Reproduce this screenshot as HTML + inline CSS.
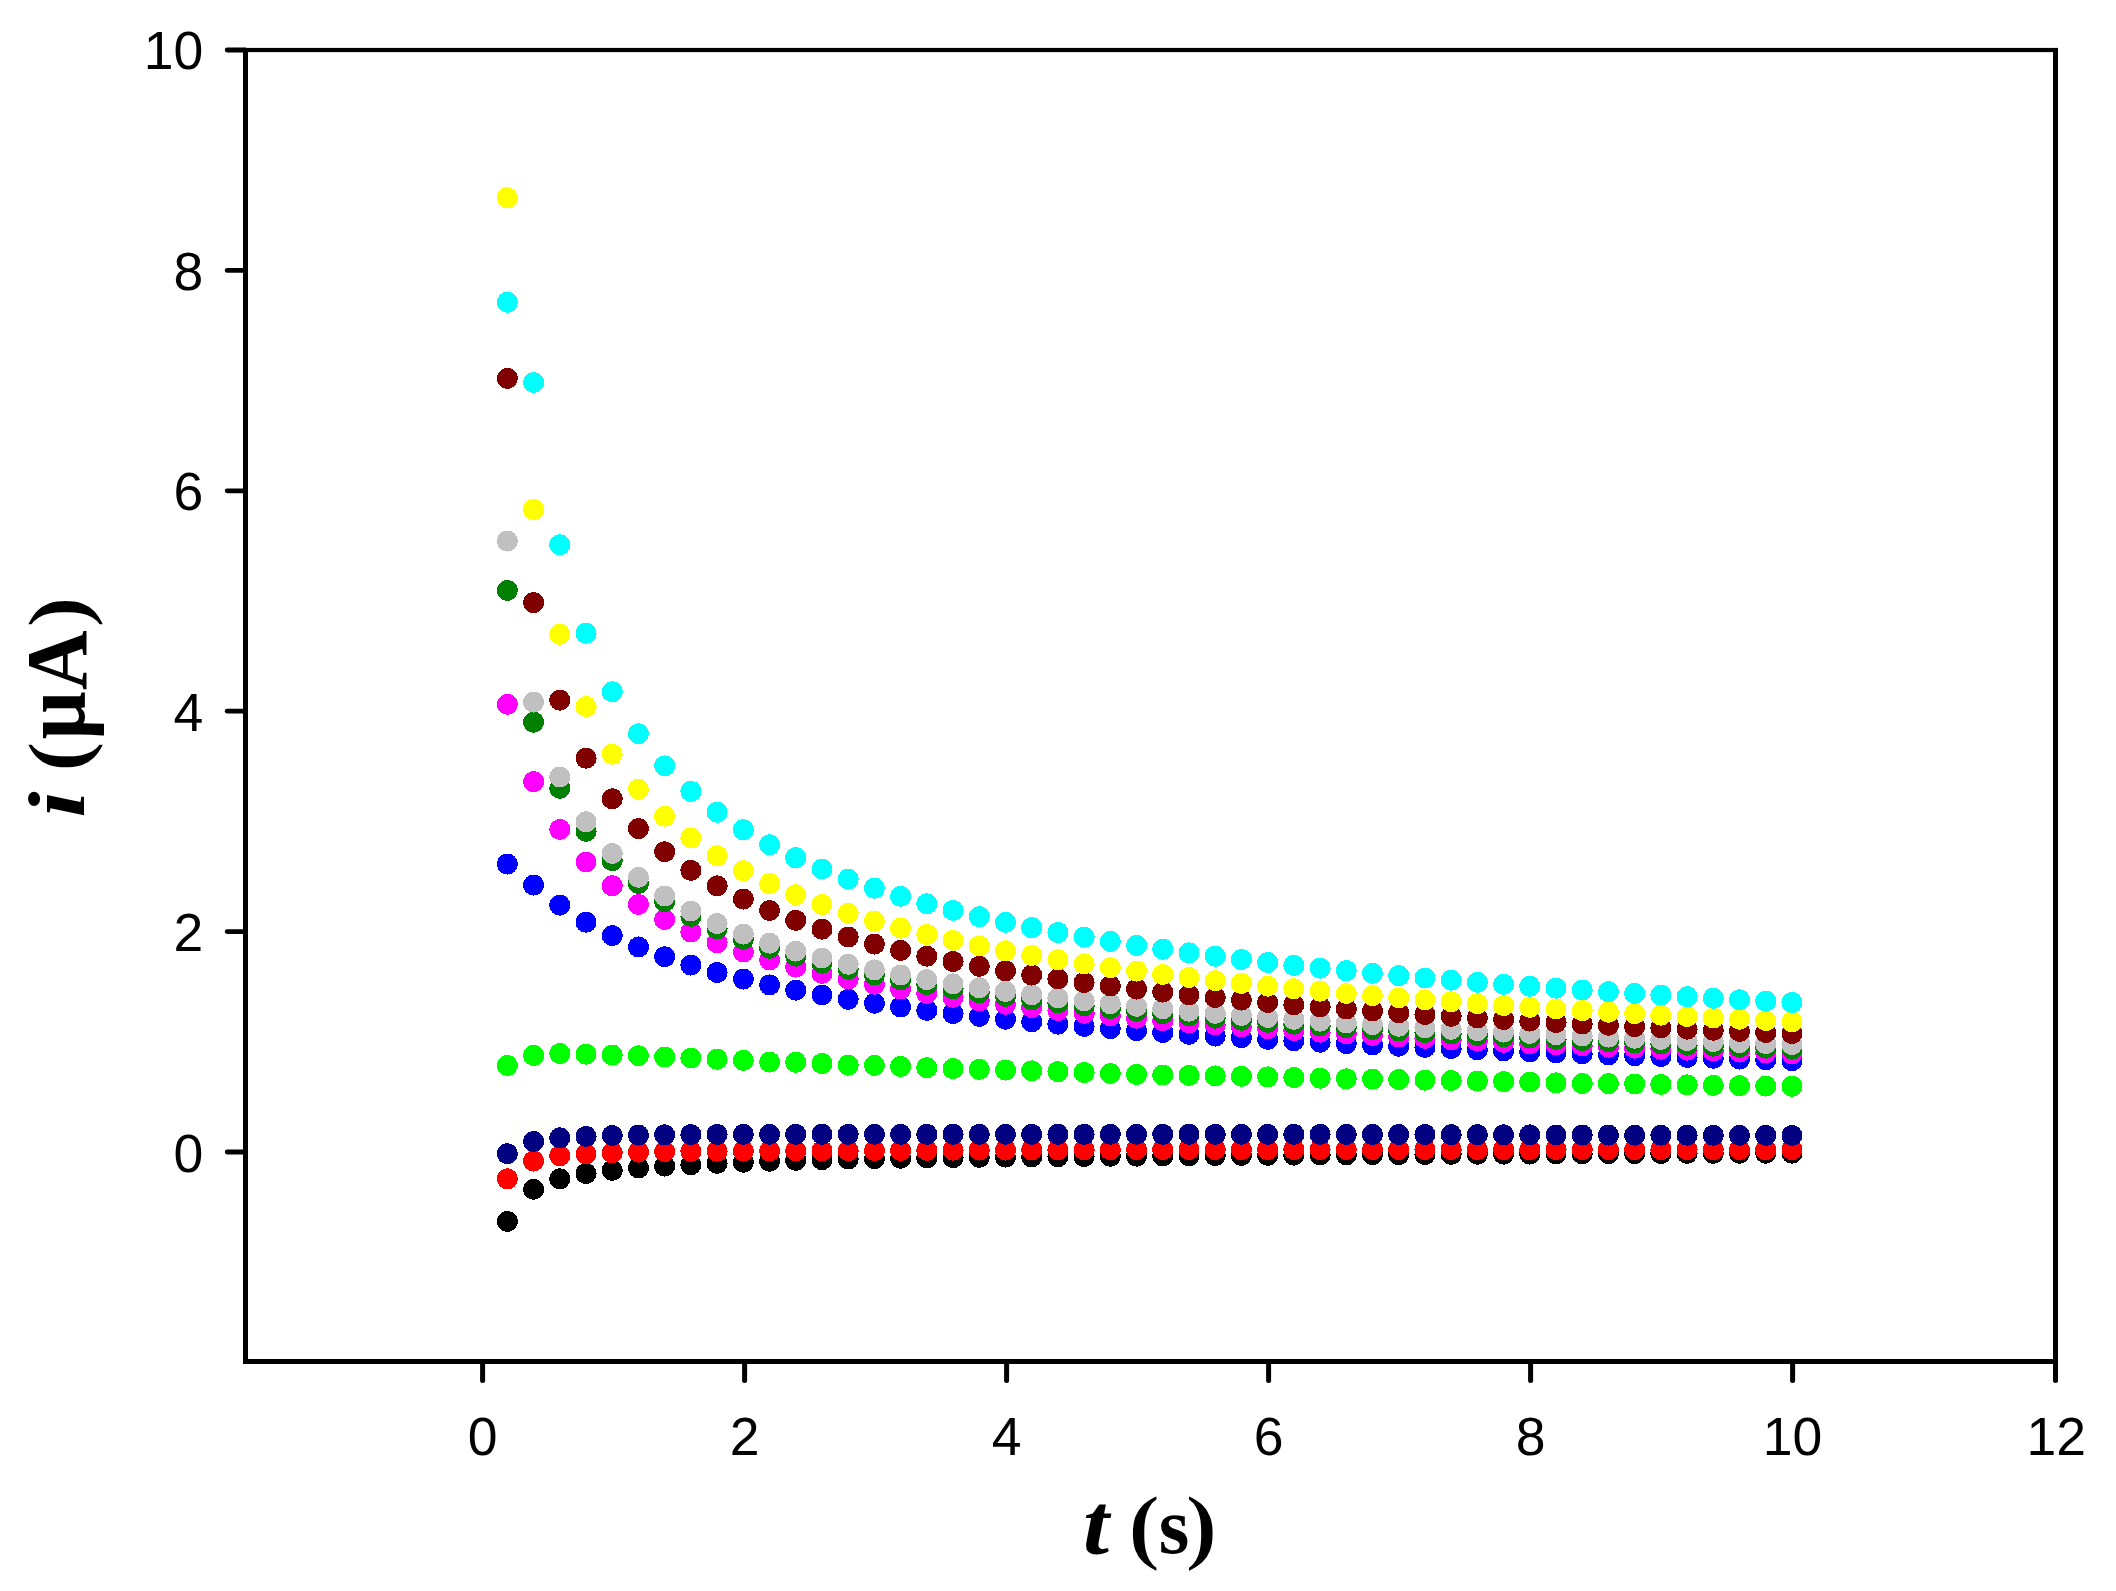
<!DOCTYPE html>
<html lang="en">
<head>
<meta charset="utf-8">
<title>i (µA) vs t (s)</title>
<style>
html,body{margin:0;padding:0;background:#fff;}
body{width:2116px;height:1591px;overflow:hidden;}
svg{display:block;}
.tk{font-family:"Liberation Sans",Arial,sans-serif;font-size:53.5px;fill:#000;}
.ax{font-family:"Liberation Serif","Times New Roman",serif;font-weight:bold;fill:#000;}
.it{font-style:italic;}
.pw{stroke:#fff;stroke-width:1.4px;}
</style>
</head>
<body>
<svg width="2116" height="1591" viewBox="0 0 2116 1591">
<rect x="0" y="0" width="2116" height="1591" fill="#ffffff"/>
<g fill="#000000" shape-rendering="crispEdges">
<circle cx="507.42" cy="1221.43" r="10.5"/><circle cx="533.63" cy="1189.36" r="10.5"/><circle cx="559.85" cy="1178.89" r="10.5"/><circle cx="586.06" cy="1173.6" r="10.5"/><circle cx="612.28" cy="1170.4" r="10.5"/><circle cx="638.5" cy="1167.98" r="10.5"/><circle cx="664.71" cy="1166.11" r="10.5"/><circle cx="690.93" cy="1164.78" r="10.5"/><circle cx="717.14" cy="1163.46" r="10.5"/><circle cx="743.36" cy="1162.25" r="10.5"/><circle cx="769.58" cy="1161.37" r="10.5"/><circle cx="795.79" cy="1160.38" r="10.5"/><circle cx="822.01" cy="1159.71" r="10.5"/><circle cx="848.22" cy="1159.05" r="10.5"/><circle cx="874.44" cy="1158.61" r="10.5"/><circle cx="900.66" cy="1158.26" r="10.5"/><circle cx="926.87" cy="1157.95" r="10.5"/><circle cx="953.09" cy="1157.67" r="10.5"/><circle cx="979.3" cy="1157.42" r="10.5"/><circle cx="1005.52" cy="1157.18" r="10.5"/><circle cx="1031.74" cy="1156.96" r="10.5"/><circle cx="1057.95" cy="1156.75" r="10.5"/><circle cx="1084.17" cy="1156.56" r="10.5"/><circle cx="1110.38" cy="1156.37" r="10.5"/><circle cx="1136.6" cy="1156.19" r="10.5"/><circle cx="1162.82" cy="1156" r="10.5"/><circle cx="1189.03" cy="1155.81" r="10.5"/><circle cx="1215.25" cy="1155.63" r="10.5"/><circle cx="1241.46" cy="1155.46" r="10.5"/><circle cx="1267.68" cy="1155.31" r="10.5"/><circle cx="1293.9" cy="1155.16" r="10.5"/><circle cx="1320.11" cy="1155.02" r="10.5"/><circle cx="1346.33" cy="1154.89" r="10.5"/><circle cx="1372.54" cy="1154.77" r="10.5"/><circle cx="1398.76" cy="1154.64" r="10.5"/><circle cx="1424.98" cy="1154.53" r="10.5"/><circle cx="1451.19" cy="1154.42" r="10.5"/><circle cx="1477.41" cy="1154.31" r="10.5"/><circle cx="1503.62" cy="1154.2" r="10.5"/><circle cx="1529.84" cy="1154.09" r="10.5"/><circle cx="1556.06" cy="1153.98" r="10.5"/><circle cx="1582.27" cy="1153.86" r="10.5"/><circle cx="1608.49" cy="1153.74" r="10.5"/><circle cx="1634.7" cy="1153.64" r="10.5"/><circle cx="1660.92" cy="1153.54" r="10.5"/><circle cx="1687.14" cy="1153.46" r="10.5"/><circle cx="1713.35" cy="1153.39" r="10.5"/><circle cx="1739.57" cy="1153.32" r="10.5"/><circle cx="1765.78" cy="1153.26" r="10.5"/><circle cx="1792" cy="1153.21" r="10.5"/>
</g>
<g fill="#ff0000" shape-rendering="crispEdges">
<circle cx="507.42" cy="1178.89" r="10.5"/><circle cx="533.63" cy="1161.04" r="10.5"/><circle cx="559.85" cy="1155.75" r="10.5"/><circle cx="586.06" cy="1153.98" r="10.5"/><circle cx="612.28" cy="1152.88" r="10.5"/><circle cx="638.5" cy="1152" r="10.5"/><circle cx="664.71" cy="1151.56" r="10.5"/><circle cx="690.93" cy="1151.37" r="10.5"/><circle cx="717.14" cy="1151.24" r="10.5"/><circle cx="743.36" cy="1151.12" r="10.5"/><circle cx="769.58" cy="1151" r="10.5"/><circle cx="795.79" cy="1150.89" r="10.5"/><circle cx="822.01" cy="1150.78" r="10.5"/><circle cx="848.22" cy="1150.67" r="10.5"/><circle cx="874.44" cy="1150.57" r="10.5"/><circle cx="900.66" cy="1150.45" r="10.5"/><circle cx="926.87" cy="1150.33" r="10.5"/><circle cx="953.09" cy="1150.22" r="10.5"/><circle cx="979.3" cy="1150.11" r="10.5"/><circle cx="1005.52" cy="1150.02" r="10.5"/><circle cx="1031.74" cy="1149.93" r="10.5"/><circle cx="1057.95" cy="1149.85" r="10.5"/><circle cx="1084.17" cy="1149.79" r="10.5"/><circle cx="1110.38" cy="1149.73" r="10.5"/><circle cx="1136.6" cy="1149.69" r="10.5"/><circle cx="1162.82" cy="1149.65" r="10.5"/><circle cx="1189.03" cy="1149.62" r="10.5"/><circle cx="1215.25" cy="1149.6" r="10.5"/><circle cx="1241.46" cy="1149.58" r="10.5"/><circle cx="1267.68" cy="1149.58" r="10.5"/><circle cx="1293.9" cy="1149.58" r="10.5"/><circle cx="1320.11" cy="1149.58" r="10.5"/><circle cx="1346.33" cy="1149.58" r="10.5"/><circle cx="1372.54" cy="1149.58" r="10.5"/><circle cx="1398.76" cy="1149.58" r="10.5"/><circle cx="1424.98" cy="1149.58" r="10.5"/><circle cx="1451.19" cy="1149.58" r="10.5"/><circle cx="1477.41" cy="1149.58" r="10.5"/><circle cx="1503.62" cy="1149.58" r="10.5"/><circle cx="1529.84" cy="1149.58" r="10.5"/><circle cx="1556.06" cy="1149.59" r="10.5"/><circle cx="1582.27" cy="1149.62" r="10.5"/><circle cx="1608.49" cy="1149.65" r="10.5"/><circle cx="1634.7" cy="1149.68" r="10.5"/><circle cx="1660.92" cy="1149.69" r="10.5"/><circle cx="1687.14" cy="1149.69" r="10.5"/><circle cx="1713.35" cy="1149.69" r="10.5"/><circle cx="1739.57" cy="1149.69" r="10.5"/><circle cx="1765.78" cy="1149.69" r="10.5"/><circle cx="1792" cy="1149.69" r="10.5"/>
</g>
<g fill="#000080" shape-rendering="crispEdges">
<circle cx="507.42" cy="1153.76" r="10.5"/><circle cx="533.63" cy="1141.53" r="10.5"/><circle cx="559.85" cy="1137.89" r="10.5"/><circle cx="586.06" cy="1136.46" r="10.5"/><circle cx="612.28" cy="1135.47" r="10.5"/><circle cx="638.5" cy="1135.14" r="10.5"/><circle cx="664.71" cy="1134.9" r="10.5"/><circle cx="690.93" cy="1134.7" r="10.5"/><circle cx="717.14" cy="1134.48" r="10.5"/><circle cx="743.36" cy="1134.37" r="10.5"/><circle cx="769.58" cy="1134.37" r="10.5"/><circle cx="795.79" cy="1134.37" r="10.5"/><circle cx="822.01" cy="1134.37" r="10.5"/><circle cx="848.22" cy="1134.37" r="10.5"/><circle cx="874.44" cy="1134.37" r="10.5"/><circle cx="900.66" cy="1134.37" r="10.5"/><circle cx="926.87" cy="1134.37" r="10.5"/><circle cx="953.09" cy="1134.37" r="10.5"/><circle cx="979.3" cy="1134.37" r="10.5"/><circle cx="1005.52" cy="1134.37" r="10.5"/><circle cx="1031.74" cy="1134.37" r="10.5"/><circle cx="1057.95" cy="1134.37" r="10.5"/><circle cx="1084.17" cy="1134.37" r="10.5"/><circle cx="1110.38" cy="1134.37" r="10.5"/><circle cx="1136.6" cy="1134.37" r="10.5"/><circle cx="1162.82" cy="1134.37" r="10.5"/><circle cx="1189.03" cy="1134.37" r="10.5"/><circle cx="1215.25" cy="1134.37" r="10.5"/><circle cx="1241.46" cy="1134.37" r="10.5"/><circle cx="1267.68" cy="1134.37" r="10.5"/><circle cx="1293.9" cy="1134.38" r="10.5"/><circle cx="1320.11" cy="1134.42" r="10.5"/><circle cx="1346.33" cy="1134.48" r="10.5"/><circle cx="1372.54" cy="1134.53" r="10.5"/><circle cx="1398.76" cy="1134.59" r="10.5"/><circle cx="1424.98" cy="1134.65" r="10.5"/><circle cx="1451.19" cy="1134.71" r="10.5"/><circle cx="1477.41" cy="1134.78" r="10.5"/><circle cx="1503.62" cy="1134.85" r="10.5"/><circle cx="1529.84" cy="1134.92" r="10.5"/><circle cx="1556.06" cy="1134.99" r="10.5"/><circle cx="1582.27" cy="1135.06" r="10.5"/><circle cx="1608.49" cy="1135.13" r="10.5"/><circle cx="1634.7" cy="1135.19" r="10.5"/><circle cx="1660.92" cy="1135.25" r="10.5"/><circle cx="1687.14" cy="1135.3" r="10.5"/><circle cx="1713.35" cy="1135.35" r="10.5"/><circle cx="1739.57" cy="1135.39" r="10.5"/><circle cx="1765.78" cy="1135.43" r="10.5"/><circle cx="1792" cy="1135.47" r="10.5"/>
</g>
<g fill="#00ff00" shape-rendering="crispEdges">
<circle cx="507.42" cy="1065.49" r="10.5"/><circle cx="533.63" cy="1055.46" r="10.5"/><circle cx="559.85" cy="1053.59" r="10.5"/><circle cx="586.06" cy="1054.14" r="10.5"/><circle cx="612.28" cy="1055.13" r="10.5"/><circle cx="638.5" cy="1055.69" r="10.5"/><circle cx="664.71" cy="1057.01" r="10.5"/><circle cx="690.93" cy="1058" r="10.5"/><circle cx="717.14" cy="1059.32" r="10.5"/><circle cx="743.36" cy="1060.42" r="10.5"/><circle cx="769.58" cy="1062.08" r="10.5"/><circle cx="795.79" cy="1062.3" r="10.5"/><circle cx="822.01" cy="1063.62" r="10.5"/><circle cx="848.22" cy="1065.16" r="10.5"/><circle cx="874.44" cy="1065.38" r="10.5"/><circle cx="900.66" cy="1066.46" r="10.5"/><circle cx="926.87" cy="1067.81" r="10.5"/><circle cx="953.09" cy="1068.66" r="10.5"/><circle cx="979.3" cy="1069.38" r="10.5"/><circle cx="1005.52" cy="1070.12" r="10.5"/><circle cx="1031.74" cy="1070.91" r="10.5"/><circle cx="1057.95" cy="1071.71" r="10.5"/><circle cx="1084.17" cy="1072.55" r="10.5"/><circle cx="1110.38" cy="1073.47" r="10.5"/><circle cx="1136.6" cy="1074.46" r="10.5"/><circle cx="1162.82" cy="1074.97" r="10.5"/><circle cx="1189.03" cy="1075.46" r="10.5"/><circle cx="1215.25" cy="1075.86" r="10.5"/><circle cx="1241.46" cy="1076.29" r="10.5"/><circle cx="1267.68" cy="1076.92" r="10.5"/><circle cx="1293.9" cy="1077.64" r="10.5"/><circle cx="1320.11" cy="1078.28" r="10.5"/><circle cx="1346.33" cy="1078.75" r="10.5"/><circle cx="1372.54" cy="1079.16" r="10.5"/><circle cx="1398.76" cy="1079.6" r="10.5"/><circle cx="1424.98" cy="1080.11" r="10.5"/><circle cx="1451.19" cy="1080.64" r="10.5"/><circle cx="1477.41" cy="1081.14" r="10.5"/><circle cx="1503.62" cy="1081.58" r="10.5"/><circle cx="1529.84" cy="1082.02" r="10.5"/><circle cx="1556.06" cy="1082.89" r="10.5"/><circle cx="1582.27" cy="1083.57" r="10.5"/><circle cx="1608.49" cy="1083.68" r="10.5"/><circle cx="1634.7" cy="1084" r="10.5"/><circle cx="1660.92" cy="1084.45" r="10.5"/><circle cx="1687.14" cy="1084.9" r="10.5"/><circle cx="1713.35" cy="1085.37" r="10.5"/><circle cx="1739.57" cy="1085.77" r="10.5"/><circle cx="1765.78" cy="1086.07" r="10.5"/><circle cx="1792" cy="1086.32" r="10.5"/>
</g>
<g fill="#0000ff" shape-rendering="crispEdges">
<circle cx="507.42" cy="864.05" r="10.5"/><circle cx="533.63" cy="885.1" r="10.5"/><circle cx="559.85" cy="905.15" r="10.5"/><circle cx="586.06" cy="922.23" r="10.5"/><circle cx="612.28" cy="935.63" r="10.5"/><circle cx="638.5" cy="946.97" r="10.5"/><circle cx="664.71" cy="956.69" r="10.5"/><circle cx="690.93" cy="965.12" r="10.5"/><circle cx="717.14" cy="972.53" r="10.5"/><circle cx="743.36" cy="979.09" r="10.5"/><circle cx="769.58" cy="984.95" r="10.5"/><circle cx="795.79" cy="990.23" r="10.5"/><circle cx="822.01" cy="995.01" r="10.5"/><circle cx="848.22" cy="999.36" r="10.5"/><circle cx="874.44" cy="1003.35" r="10.5"/><circle cx="900.66" cy="1007.03" r="10.5"/><circle cx="926.87" cy="1010.42" r="10.5"/><circle cx="953.09" cy="1013.57" r="10.5"/><circle cx="979.3" cy="1016.5" r="10.5"/><circle cx="1005.52" cy="1019.24" r="10.5"/><circle cx="1031.74" cy="1021.81" r="10.5"/><circle cx="1057.95" cy="1024.22" r="10.5"/><circle cx="1084.17" cy="1026.48" r="10.5"/><circle cx="1110.38" cy="1028.62" r="10.5"/><circle cx="1136.6" cy="1030.65" r="10.5"/><circle cx="1162.82" cy="1032.57" r="10.5"/><circle cx="1189.03" cy="1034.39" r="10.5"/><circle cx="1215.25" cy="1036.12" r="10.5"/><circle cx="1241.46" cy="1037.77" r="10.5"/><circle cx="1267.68" cy="1039.34" r="10.5"/><circle cx="1293.9" cy="1040.85" r="10.5"/><circle cx="1320.11" cy="1042.28" r="10.5"/><circle cx="1346.33" cy="1043.66" r="10.5"/><circle cx="1372.54" cy="1044.98" r="10.5"/><circle cx="1398.76" cy="1046.25" r="10.5"/><circle cx="1424.98" cy="1047.47" r="10.5"/><circle cx="1451.19" cy="1048.64" r="10.5"/><circle cx="1477.41" cy="1049.77" r="10.5"/><circle cx="1503.62" cy="1050.86" r="10.5"/><circle cx="1529.84" cy="1051.91" r="10.5"/><circle cx="1556.06" cy="1052.92" r="10.5"/><circle cx="1582.27" cy="1053.9" r="10.5"/><circle cx="1608.49" cy="1054.84" r="10.5"/><circle cx="1634.7" cy="1055.76" r="10.5"/><circle cx="1660.92" cy="1056.65" r="10.5"/><circle cx="1687.14" cy="1057.51" r="10.5"/><circle cx="1713.35" cy="1058.34" r="10.5"/><circle cx="1739.57" cy="1059.15" r="10.5"/><circle cx="1765.78" cy="1059.93" r="10.5"/><circle cx="1792" cy="1060.7" r="10.5"/>
</g>
<g fill="#ff00ff" shape-rendering="crispEdges">
<circle cx="507.42" cy="704.37" r="10.5"/><circle cx="533.63" cy="781.73" r="10.5"/><circle cx="559.85" cy="829.44" r="10.5"/><circle cx="586.06" cy="862.06" r="10.5"/><circle cx="612.28" cy="885.84" r="10.5"/><circle cx="638.5" cy="904.44" r="10.5"/><circle cx="664.71" cy="919.53" r="10.5"/><circle cx="690.93" cy="932.09" r="10.5"/><circle cx="717.14" cy="942.75" r="10.5"/><circle cx="743.36" cy="951.95" r="10.5"/><circle cx="769.58" cy="959.99" r="10.5"/><circle cx="795.79" cy="967.1" r="10.5"/><circle cx="822.01" cy="973.44" r="10.5"/><circle cx="848.22" cy="979.14" r="10.5"/><circle cx="874.44" cy="984.31" r="10.5"/><circle cx="900.66" cy="989.01" r="10.5"/><circle cx="926.87" cy="993.33" r="10.5"/><circle cx="953.09" cy="997.29" r="10.5"/><circle cx="979.3" cy="1000.96" r="10.5"/><circle cx="1005.52" cy="1004.37" r="10.5"/><circle cx="1031.74" cy="1007.54" r="10.5"/><circle cx="1057.95" cy="1010.5" r="10.5"/><circle cx="1084.17" cy="1013.28" r="10.5"/><circle cx="1110.38" cy="1015.89" r="10.5"/><circle cx="1136.6" cy="1018.34" r="10.5"/><circle cx="1162.82" cy="1020.66" r="10.5"/><circle cx="1189.03" cy="1022.86" r="10.5"/><circle cx="1215.25" cy="1024.94" r="10.5"/><circle cx="1241.46" cy="1026.91" r="10.5"/><circle cx="1267.68" cy="1028.79" r="10.5"/><circle cx="1293.9" cy="1030.58" r="10.5"/><circle cx="1320.11" cy="1032.29" r="10.5"/><circle cx="1346.33" cy="1033.92" r="10.5"/><circle cx="1372.54" cy="1035.48" r="10.5"/><circle cx="1398.76" cy="1036.98" r="10.5"/><circle cx="1424.98" cy="1038.41" r="10.5"/><circle cx="1451.19" cy="1039.79" r="10.5"/><circle cx="1477.41" cy="1041.12" r="10.5"/><circle cx="1503.62" cy="1042.39" r="10.5"/><circle cx="1529.84" cy="1043.62" r="10.5"/><circle cx="1556.06" cy="1044.8" r="10.5"/><circle cx="1582.27" cy="1045.94" r="10.5"/><circle cx="1608.49" cy="1047.04" r="10.5"/><circle cx="1634.7" cy="1048.11" r="10.5"/><circle cx="1660.92" cy="1049.14" r="10.5"/><circle cx="1687.14" cy="1050.14" r="10.5"/><circle cx="1713.35" cy="1051.1" r="10.5"/><circle cx="1739.57" cy="1052.04" r="10.5"/><circle cx="1765.78" cy="1052.95" r="10.5"/><circle cx="1792" cy="1053.83" r="10.5"/>
</g>
<g fill="#008000" shape-rendering="crispEdges">
<circle cx="507.42" cy="590.42" r="10.5"/><circle cx="533.63" cy="722.22" r="10.5"/><circle cx="559.85" cy="788.34" r="10.5"/><circle cx="586.06" cy="831.32" r="10.5"/><circle cx="612.28" cy="860.69" r="10.5"/><circle cx="638.5" cy="883.5" r="10.5"/><circle cx="664.71" cy="901.66" r="10.5"/><circle cx="690.93" cy="916.46" r="10.5"/><circle cx="717.14" cy="928.79" r="10.5"/><circle cx="743.36" cy="939.25" r="10.5"/><circle cx="769.58" cy="948.27" r="10.5"/><circle cx="795.79" cy="956.16" r="10.5"/><circle cx="822.01" cy="963.13" r="10.5"/><circle cx="848.22" cy="969.34" r="10.5"/><circle cx="874.44" cy="974.94" r="10.5"/><circle cx="900.66" cy="980.01" r="10.5"/><circle cx="926.87" cy="984.64" r="10.5"/><circle cx="953.09" cy="988.88" r="10.5"/><circle cx="979.3" cy="992.79" r="10.5"/><circle cx="1005.52" cy="996.42" r="10.5"/><circle cx="1031.74" cy="999.79" r="10.5"/><circle cx="1057.95" cy="1002.93" r="10.5"/><circle cx="1084.17" cy="1005.88" r="10.5"/><circle cx="1110.38" cy="1008.64" r="10.5"/><circle cx="1136.6" cy="1011.25" r="10.5"/><circle cx="1162.82" cy="1013.7" r="10.5"/><circle cx="1189.03" cy="1016.03" r="10.5"/><circle cx="1215.25" cy="1018.24" r="10.5"/><circle cx="1241.46" cy="1020.33" r="10.5"/><circle cx="1267.68" cy="1022.33" r="10.5"/><circle cx="1293.9" cy="1024.23" r="10.5"/><circle cx="1320.11" cy="1026.04" r="10.5"/><circle cx="1346.33" cy="1027.78" r="10.5"/><circle cx="1372.54" cy="1029.44" r="10.5"/><circle cx="1398.76" cy="1031.04" r="10.5"/><circle cx="1424.98" cy="1032.57" r="10.5"/><circle cx="1451.19" cy="1034.04" r="10.5"/><circle cx="1477.41" cy="1035.46" r="10.5"/><circle cx="1503.62" cy="1036.82" r="10.5"/><circle cx="1529.84" cy="1038.14" r="10.5"/><circle cx="1556.06" cy="1039.41" r="10.5"/><circle cx="1582.27" cy="1040.63" r="10.5"/><circle cx="1608.49" cy="1041.82" r="10.5"/><circle cx="1634.7" cy="1042.97" r="10.5"/><circle cx="1660.92" cy="1044.08" r="10.5"/><circle cx="1687.14" cy="1045.16" r="10.5"/><circle cx="1713.35" cy="1046.2" r="10.5"/><circle cx="1739.57" cy="1047.21" r="10.5"/><circle cx="1765.78" cy="1048.2" r="10.5"/><circle cx="1792" cy="1049.15" r="10.5"/>
</g>
<g fill="#c0c0c0" shape-rendering="crispEdges">
<circle cx="507.42" cy="541.05" r="10.5"/><circle cx="533.63" cy="702.16" r="10.5"/><circle cx="559.85" cy="776.99" r="10.5"/><circle cx="586.06" cy="821.84" r="10.5"/><circle cx="612.28" cy="853.44" r="10.5"/><circle cx="638.5" cy="877.31" r="10.5"/><circle cx="664.71" cy="895.99" r="10.5"/><circle cx="690.93" cy="911.06" r="10.5"/><circle cx="717.14" cy="923.55" r="10.5"/><circle cx="743.36" cy="934.11" r="10.5"/><circle cx="769.58" cy="943.19" r="10.5"/><circle cx="795.79" cy="951.11" r="10.5"/><circle cx="822.01" cy="958.1" r="10.5"/><circle cx="848.22" cy="964.34" r="10.5"/><circle cx="874.44" cy="969.95" r="10.5"/><circle cx="900.66" cy="975.03" r="10.5"/><circle cx="926.87" cy="979.67" r="10.5"/><circle cx="953.09" cy="983.93" r="10.5"/><circle cx="979.3" cy="987.85" r="10.5"/><circle cx="1005.52" cy="991.49" r="10.5"/><circle cx="1031.74" cy="994.87" r="10.5"/><circle cx="1057.95" cy="998.03" r="10.5"/><circle cx="1084.17" cy="1000.98" r="10.5"/><circle cx="1110.38" cy="1003.76" r="10.5"/><circle cx="1136.6" cy="1006.38" r="10.5"/><circle cx="1162.82" cy="1008.85" r="10.5"/><circle cx="1189.03" cy="1011.19" r="10.5"/><circle cx="1215.25" cy="1013.41" r="10.5"/><circle cx="1241.46" cy="1015.51" r="10.5"/><circle cx="1267.68" cy="1017.52" r="10.5"/><circle cx="1293.9" cy="1019.44" r="10.5"/><circle cx="1320.11" cy="1021.26" r="10.5"/><circle cx="1346.33" cy="1023.01" r="10.5"/><circle cx="1372.54" cy="1024.69" r="10.5"/><circle cx="1398.76" cy="1026.3" r="10.5"/><circle cx="1424.98" cy="1027.84" r="10.5"/><circle cx="1451.19" cy="1029.33" r="10.5"/><circle cx="1477.41" cy="1030.76" r="10.5"/><circle cx="1503.62" cy="1032.13" r="10.5"/><circle cx="1529.84" cy="1033.46" r="10.5"/><circle cx="1556.06" cy="1034.74" r="10.5"/><circle cx="1582.27" cy="1035.98" r="10.5"/><circle cx="1608.49" cy="1037.18" r="10.5"/><circle cx="1634.7" cy="1038.34" r="10.5"/><circle cx="1660.92" cy="1039.47" r="10.5"/><circle cx="1687.14" cy="1040.55" r="10.5"/><circle cx="1713.35" cy="1041.61" r="10.5"/><circle cx="1739.57" cy="1042.63" r="10.5"/><circle cx="1765.78" cy="1043.63" r="10.5"/><circle cx="1792" cy="1044.6" r="10.5"/>
</g>
<g fill="#800000" shape-rendering="crispEdges">
<circle cx="507.42" cy="378.4" r="10.5"/><circle cx="533.63" cy="602.65" r="10.5"/><circle cx="559.85" cy="700.18" r="10.5"/><circle cx="586.06" cy="758.26" r="10.5"/><circle cx="612.28" cy="798.85" r="10.5"/><circle cx="638.5" cy="828.6" r="10.5"/><circle cx="664.71" cy="851.72" r="10.5"/><circle cx="690.93" cy="870.41" r="10.5"/><circle cx="717.14" cy="885.95" r="10.5"/><circle cx="743.36" cy="899.13" r="10.5"/><circle cx="769.58" cy="910.5" r="10.5"/><circle cx="795.79" cy="920.43" r="10.5"/><circle cx="822.01" cy="929.21" r="10.5"/><circle cx="848.22" cy="937.03" r="10.5"/><circle cx="874.44" cy="944.07" r="10.5"/><circle cx="900.66" cy="950.43" r="10.5"/><circle cx="926.87" cy="956.22" r="10.5"/><circle cx="953.09" cy="961.52" r="10.5"/><circle cx="979.3" cy="966.4" r="10.5"/><circle cx="1005.52" cy="970.9" r="10.5"/><circle cx="1031.74" cy="975.07" r="10.5"/><circle cx="1057.95" cy="978.95" r="10.5"/><circle cx="1084.17" cy="982.57" r="10.5"/><circle cx="1110.38" cy="985.96" r="10.5"/><circle cx="1136.6" cy="989.14" r="10.5"/><circle cx="1162.82" cy="992.12" r="10.5"/><circle cx="1189.03" cy="994.94" r="10.5"/><circle cx="1215.25" cy="997.61" r="10.5"/><circle cx="1241.46" cy="1000.13" r="10.5"/><circle cx="1267.68" cy="1002.52" r="10.5"/><circle cx="1293.9" cy="1004.79" r="10.5"/><circle cx="1320.11" cy="1006.95" r="10.5"/><circle cx="1346.33" cy="1009.01" r="10.5"/><circle cx="1372.54" cy="1010.97" r="10.5"/><circle cx="1398.76" cy="1012.85" r="10.5"/><circle cx="1424.98" cy="1014.65" r="10.5"/><circle cx="1451.19" cy="1016.37" r="10.5"/><circle cx="1477.41" cy="1018.02" r="10.5"/><circle cx="1503.62" cy="1019.6" r="10.5"/><circle cx="1529.84" cy="1021.12" r="10.5"/><circle cx="1556.06" cy="1022.59" r="10.5"/><circle cx="1582.27" cy="1024" r="10.5"/><circle cx="1608.49" cy="1025.36" r="10.5"/><circle cx="1634.7" cy="1026.67" r="10.5"/><circle cx="1660.92" cy="1027.93" r="10.5"/><circle cx="1687.14" cy="1029.16" r="10.5"/><circle cx="1713.35" cy="1030.34" r="10.5"/><circle cx="1739.57" cy="1031.48" r="10.5"/><circle cx="1765.78" cy="1032.59" r="10.5"/><circle cx="1792" cy="1033.66" r="10.5"/>
</g>
<g fill="#ffff00" shape-rendering="crispEdges">
<circle cx="507.42" cy="197.67" r="10.5"/><circle cx="533.63" cy="509.53" r="10.5"/><circle cx="559.85" cy="634.28" r="10.5"/><circle cx="586.06" cy="706.68" r="10.5"/><circle cx="612.28" cy="754.23" r="10.5"/><circle cx="638.5" cy="789.24" r="10.5"/><circle cx="664.71" cy="816.28" r="10.5"/><circle cx="690.93" cy="837.91" r="10.5"/><circle cx="717.14" cy="855.72" r="10.5"/><circle cx="743.36" cy="870.71" r="10.5"/><circle cx="769.58" cy="883.55" r="10.5"/><circle cx="795.79" cy="894.71" r="10.5"/><circle cx="822.01" cy="904.53" r="10.5"/><circle cx="848.22" cy="913.25" r="10.5"/><circle cx="874.44" cy="921.07" r="10.5"/><circle cx="900.66" cy="928.14" r="10.5"/><circle cx="926.87" cy="934.57" r="10.5"/><circle cx="953.09" cy="940.45" r="10.5"/><circle cx="979.3" cy="945.86" r="10.5"/><circle cx="1005.52" cy="950.85" r="10.5"/><circle cx="1031.74" cy="955.49" r="10.5"/><circle cx="1057.95" cy="959.8" r="10.5"/><circle cx="1084.17" cy="963.83" r="10.5"/><circle cx="1110.38" cy="967.61" r="10.5"/><circle cx="1136.6" cy="971.15" r="10.5"/><circle cx="1162.82" cy="974.5" r="10.5"/><circle cx="1189.03" cy="977.65" r="10.5"/><circle cx="1215.25" cy="980.64" r="10.5"/><circle cx="1241.46" cy="983.47" r="10.5"/><circle cx="1267.68" cy="986.16" r="10.5"/><circle cx="1293.9" cy="988.73" r="10.5"/><circle cx="1320.11" cy="991.17" r="10.5"/><circle cx="1346.33" cy="993.5" r="10.5"/><circle cx="1372.54" cy="995.73" r="10.5"/><circle cx="1398.76" cy="997.86" r="10.5"/><circle cx="1424.98" cy="999.91" r="10.5"/><circle cx="1451.19" cy="1001.87" r="10.5"/><circle cx="1477.41" cy="1003.76" r="10.5"/><circle cx="1503.62" cy="1005.58" r="10.5"/><circle cx="1529.84" cy="1007.33" r="10.5"/><circle cx="1556.06" cy="1009.01" r="10.5"/><circle cx="1582.27" cy="1010.64" r="10.5"/><circle cx="1608.49" cy="1012.21" r="10.5"/><circle cx="1634.7" cy="1013.72" r="10.5"/><circle cx="1660.92" cy="1015.19" r="10.5"/><circle cx="1687.14" cy="1016.61" r="10.5"/><circle cx="1713.35" cy="1017.98" r="10.5"/><circle cx="1739.57" cy="1019.32" r="10.5"/><circle cx="1765.78" cy="1020.61" r="10.5"/><circle cx="1792" cy="1021.86" r="10.5"/>
</g>
<g fill="#00ffff" shape-rendering="crispEdges">
<circle cx="507.42" cy="302.25" r="10.5"/><circle cx="533.63" cy="382.47" r="10.5"/><circle cx="559.85" cy="544.69" r="10.5"/><circle cx="586.06" cy="633.29" r="10.5"/><circle cx="612.28" cy="691.69" r="10.5"/><circle cx="638.5" cy="733.75" r="10.5"/><circle cx="664.71" cy="765.86" r="10.5"/><circle cx="690.93" cy="791.38" r="10.5"/><circle cx="717.14" cy="812.28" r="10.5"/><circle cx="743.36" cy="829.8" r="10.5"/><circle cx="769.58" cy="844.75" r="10.5"/><circle cx="795.79" cy="857.71" r="10.5"/><circle cx="822.01" cy="869.08" r="10.5"/><circle cx="848.22" cy="879.17" r="10.5"/><circle cx="874.44" cy="888.19" r="10.5"/><circle cx="900.66" cy="896.33" r="10.5"/><circle cx="926.87" cy="903.72" r="10.5"/><circle cx="953.09" cy="910.47" r="10.5"/><circle cx="979.3" cy="916.66" r="10.5"/><circle cx="1005.52" cy="922.38" r="10.5"/><circle cx="1031.74" cy="927.67" r="10.5"/><circle cx="1057.95" cy="932.59" r="10.5"/><circle cx="1084.17" cy="937.18" r="10.5"/><circle cx="1110.38" cy="941.48" r="10.5"/><circle cx="1136.6" cy="945.51" r="10.5"/><circle cx="1162.82" cy="949.31" r="10.5"/><circle cx="1189.03" cy="952.88" r="10.5"/><circle cx="1215.25" cy="956.27" r="10.5"/><circle cx="1241.46" cy="959.47" r="10.5"/><circle cx="1267.68" cy="962.52" r="10.5"/><circle cx="1293.9" cy="965.41" r="10.5"/><circle cx="1320.11" cy="968.16" r="10.5"/><circle cx="1346.33" cy="970.79" r="10.5"/><circle cx="1372.54" cy="973.3" r="10.5"/><circle cx="1398.76" cy="975.7" r="10.5"/><circle cx="1424.98" cy="978" r="10.5"/><circle cx="1451.19" cy="980.21" r="10.5"/><circle cx="1477.41" cy="982.33" r="10.5"/><circle cx="1503.62" cy="984.37" r="10.5"/><circle cx="1529.84" cy="986.32" r="10.5"/><circle cx="1556.06" cy="988.21" r="10.5"/><circle cx="1582.27" cy="990.03" r="10.5"/><circle cx="1608.49" cy="991.79" r="10.5"/><circle cx="1634.7" cy="993.48" r="10.5"/><circle cx="1660.92" cy="995.12" r="10.5"/><circle cx="1687.14" cy="996.7" r="10.5"/><circle cx="1713.35" cy="998.24" r="10.5"/><circle cx="1739.57" cy="999.72" r="10.5"/><circle cx="1765.78" cy="1001.16" r="10.5"/><circle cx="1792" cy="1002.56" r="10.5"/>
</g>
<g fill="#000">
<rect x="243" y="48" width="5" height="1316"/>
<rect x="2053" y="48" width="5" height="1316"/>
<rect x="243" y="47.9" width="1815" height="4.2"/>
<rect x="243" y="1359" width="1815" height="5"/>
</g>
<g stroke="#000" stroke-linecap="round" fill="none">
<line x1="227.2" y1="1152" x2="245" y2="1152" stroke-width="4.8"/>
<line x1="227.2" y1="931.6" x2="245" y2="931.6" stroke-width="4.8"/>
<line x1="227.2" y1="711.2" x2="245" y2="711.2" stroke-width="4.8"/>
<line x1="227.2" y1="490.8" x2="245" y2="490.8" stroke-width="4.8"/>
<line x1="227.2" y1="270.4" x2="245" y2="270.4" stroke-width="4.8"/>
<line x1="227.2" y1="50" x2="245" y2="50" stroke-width="4.8"/>
<line x1="482.6" y1="1362" x2="482.6" y2="1380.4" stroke-width="5"/>
<line x1="744.6" y1="1362" x2="744.6" y2="1380.4" stroke-width="5"/>
<line x1="1006.6" y1="1362" x2="1006.6" y2="1380.4" stroke-width="5"/>
<line x1="1268.6" y1="1362" x2="1268.6" y2="1380.4" stroke-width="5"/>
<line x1="1530.6" y1="1362" x2="1530.6" y2="1380.4" stroke-width="5"/>
<line x1="1792.6" y1="1362" x2="1792.6" y2="1380.4" stroke-width="5"/>
<line x1="2055.5" y1="1362" x2="2055.5" y2="1380.4" stroke-width="5"/>
</g>
<g class="tk" text-anchor="end">
<text x="203.2" y="1171.6">0</text>
<text x="203.2" y="951.2">2</text>
<text x="203.2" y="730.8">4</text>
<text x="203.2" y="510.4">6</text>
<text x="203.2" y="290">8</text>
<text x="203.2" y="68.8">10</text>
</g>
<g class="tk" text-anchor="middle">
<text x="482.6" y="1455">0</text>
<text x="744.6" y="1455">2</text>
<text x="1006.6" y="1455">4</text>
<text x="1268.6" y="1455">6</text>
<text x="1530.6" y="1455">8</text>
<text x="1792.6" y="1455">10</text>
<text x="2056.3" y="1455">12</text>
</g>
<text class="ax" font-size="80"><tspan class="it" x="1083.09" y="1554" font-size="87.29" textLength="26.05" lengthAdjust="spacingAndGlyphs">t</tspan> <tspan class="pw" x="1127.89" y="1554.38" font-size="83.83" textLength="32.67" lengthAdjust="spacingAndGlyphs">(</tspan><tspan x="1158.74" y="1552.99" font-size="80.82" textLength="30.56" lengthAdjust="spacingAndGlyphs">s</tspan><tspan class="pw" x="1185.11" y="1554.38" font-size="83.83" textLength="32.81" lengthAdjust="spacingAndGlyphs">)</tspan></text>
<text class="ax" font-size="80" transform="rotate(-90)"><tspan class="it" x="-817.68" y="84.3" font-size="80.57" textLength="26.46" lengthAdjust="spacingAndGlyphs">i</tspan> <tspan class="pw" x="-772.32" y="86.37" font-size="84.99" textLength="31.41" lengthAdjust="spacingAndGlyphs">(</tspan><tspan x="-739.76" y="84.6" font-size="90.37" textLength="48.82" lengthAdjust="spacingAndGlyphs">µ</tspan><tspan x="-689.93" y="86.4" font-size="86.64" textLength="59.64" lengthAdjust="spacingAndGlyphs">A</tspan><tspan class="pw" x="-628.25" y="86.37" font-size="84.99" textLength="32.39" lengthAdjust="spacingAndGlyphs">)</tspan></text>
</svg>
</body>
</html>
